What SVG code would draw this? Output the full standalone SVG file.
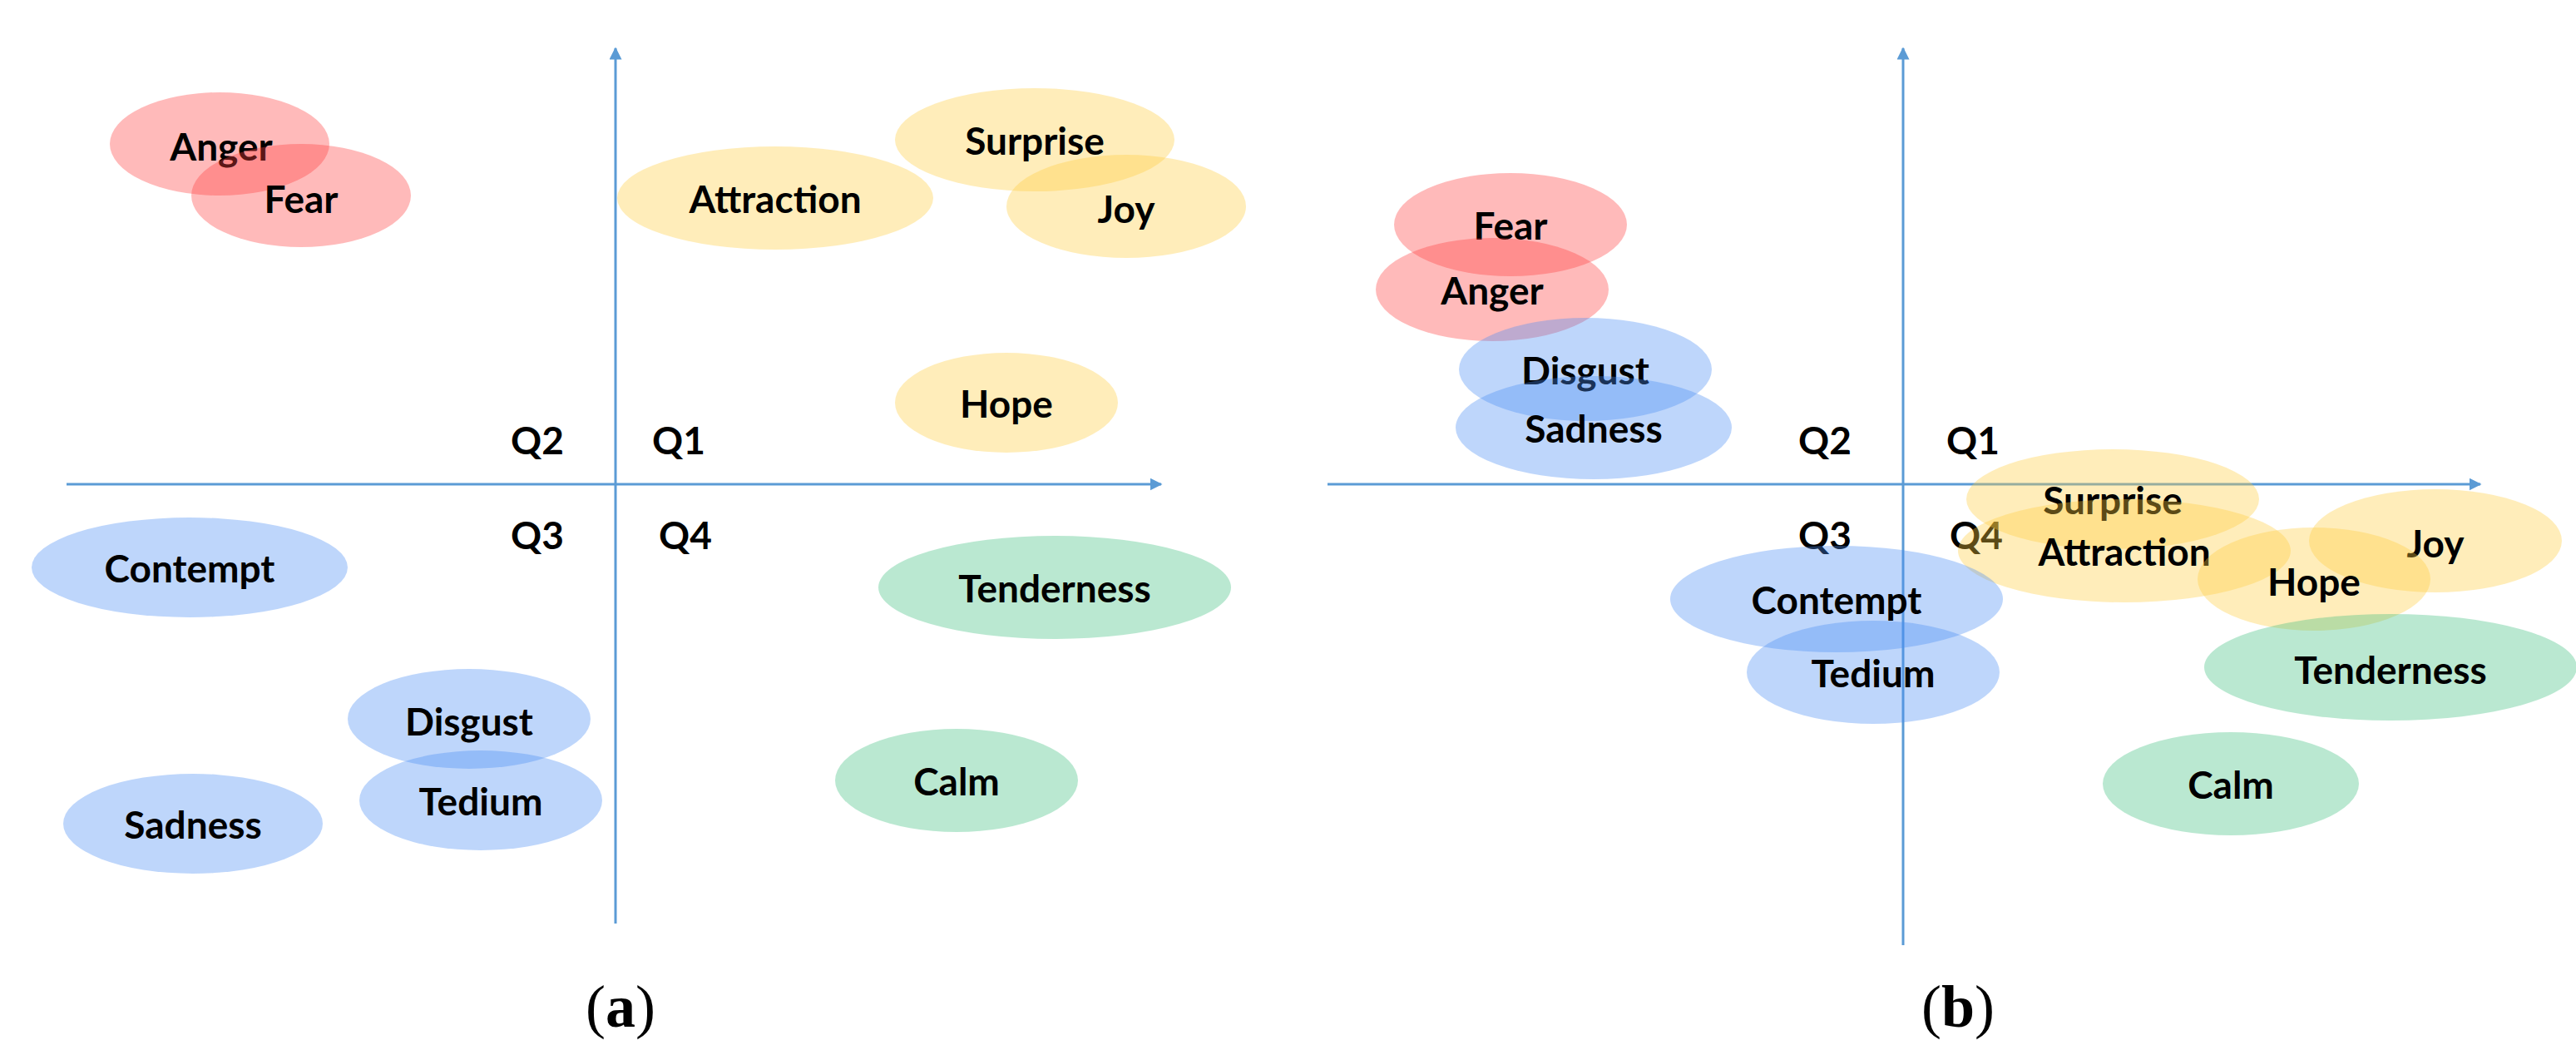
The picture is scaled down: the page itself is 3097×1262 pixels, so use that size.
<svg xmlns="http://www.w3.org/2000/svg" width="3097" height="1262" viewBox="0 0 3097 1262">
<style>
.r{fill:#ff4040;fill-opacity:0.36}
.y{fill:#ffcc40;fill-opacity:0.36}
.b{fill:#4a8ef5;fill-opacity:0.36}
.g{fill:#40c080;fill-opacity:0.36}
text{font-family:Lato,"Liberation Sans",sans-serif;font-weight:bold;font-size:46px;fill:#000;text-anchor:middle;dominant-baseline:central}
.cap{font-family:"Liberation Serif",serif;font-weight:normal;font-size:72px}
.cap b{font-weight:bold}
.ax{stroke:#5b9bd5;stroke-width:3;fill:none;marker-end:url(#ah)}
</style>
<defs><marker id="ah" viewBox="0 0 10 10" refX="9" refY="5" markerWidth="5" markerHeight="5" orient="auto" markerUnits="strokeWidth"><path d="M0,0L10,5L0,10z" fill="#5b9bd5"/></marker></defs>
<rect width="3097" height="1262" fill="#fff"/>
<g id="connectors">
<line class="ax" x1="740" y1="1110" x2="740" y2="58"/>
<line class="ax" x1="80" y1="582" x2="1396" y2="582"/>
<line class="ax" x1="2288" y1="1136" x2="2288" y2="58"/>
<line class="ax" x1="1596" y1="582" x2="2982" y2="582"/>
</g>
<g id="a-anger"><ellipse class="r" cx="264" cy="173" rx="132" ry="62"/><text x="266" y="175">Anger</text></g>
<g id="a-fear"><ellipse class="r" cx="362" cy="235" rx="132" ry="62"/><text x="362" y="238">Fear</text></g>
<g id="a-attraction"><ellipse class="y" cx="932" cy="238" rx="190" ry="62"/><text x="932" y="238">Attraction</text></g>
<g id="a-surprise"><ellipse class="y" cx="1244" cy="168" rx="168" ry="62"/><text x="1244" y="168">Surprise</text></g>
<g id="a-joy"><ellipse class="y" cx="1354" cy="248" rx="144" ry="62"/><text x="1354" y="250">Joy</text></g>
<g id="a-hope"><ellipse class="y" cx="1210" cy="484" rx="134" ry="60"/><text x="1210" y="484">Hope</text></g>
<g id="a-contempt"><ellipse class="b" cx="228" cy="682" rx="190" ry="60"/><text x="228" y="682">Contempt</text></g>
<g id="a-tenderness"><ellipse class="g" cx="1268" cy="706" rx="212" ry="62"/><text x="1268" y="706">Tenderness</text></g>
<g id="a-disgust"><ellipse class="b" cx="564" cy="864" rx="146" ry="60"/><text x="564" y="866">Disgust</text></g>
<g id="a-tedium"><ellipse class="b" cx="578" cy="962" rx="146" ry="60"/><text x="578" y="962">Tedium</text></g>
<g id="a-sadness"><ellipse class="b" cx="232" cy="990" rx="156" ry="60"/><text x="232" y="990">Sadness</text></g>
<g id="a-calm"><ellipse class="g" cx="1150" cy="938" rx="146" ry="62"/><text x="1150" y="938">Calm</text></g>
<g id="a-q"><text x="646" y="528">Q2</text><text x="816" y="528">Q1</text><text x="646" y="642">Q3</text><text x="824" y="642">Q4</text></g>
<text class="cap" x="746" y="1210">(<tspan font-weight="bold">a</tspan>)</text>

<g id="b-fear"><ellipse class="r" cx="1816" cy="270" rx="140" ry="62"/><text x="1816" y="270">Fear</text></g>
<g id="b-anger"><ellipse class="r" cx="1794" cy="348" rx="140" ry="62"/><text x="1794" y="348">Anger</text></g>
<g id="b-disgust"><ellipse class="b" cx="1906" cy="444" rx="152" ry="62"/><text x="1906" y="444">Disgust</text></g>
<g id="b-sadness"><ellipse class="b" cx="1916" cy="514" rx="166" ry="62"/><text x="1916" y="514">Sadness</text></g>
<g id="b-q"><text x="2194" y="528">Q2</text><text x="2372" y="528">Q1</text><text x="2194" y="642">Q3</text><text x="2376" y="642">Q4</text></g>
<g id="b-surprise"><ellipse class="y" cx="2540" cy="600" rx="176" ry="60"/><text x="2540" y="600">Surprise</text></g>
<g id="b-attraction"><ellipse class="y" cx="2554" cy="662" rx="200" ry="62"/><text x="2554" y="662">Attraction</text></g>
<g id="b-joy"><ellipse class="y" cx="2928" cy="650" rx="152" ry="62"/><text x="2928" y="652">Joy</text></g>
<g id="b-hope"><ellipse class="y" cx="2782" cy="696" rx="140" ry="62"/><text x="2782" y="698">Hope</text></g>
<g id="b-contempt"><ellipse class="b" cx="2208" cy="720" rx="200" ry="64"/><text x="2208" y="720">Contempt</text></g>
<g id="b-tedium"><ellipse class="b" cx="2252" cy="808" rx="152" ry="62"/><text x="2252" y="808">Tedium</text></g>
<g id="b-tenderness"><ellipse class="g" cx="2874" cy="802" rx="224" ry="64"/><text x="2874" y="804">Tenderness</text></g>
<g id="b-calm"><ellipse class="g" cx="2682" cy="942" rx="154" ry="62"/><text x="2682" y="942">Calm</text></g>
<text class="cap" x="2354" y="1210">(<tspan font-weight="bold">b</tspan>)</text>
</svg>
